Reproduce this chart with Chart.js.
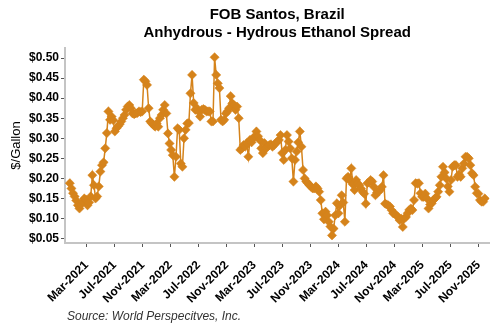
<!DOCTYPE html>
<html>
<head>
<meta charset="utf-8">
<script src="https://cdn.jsdelivr.net/npm/chart.js@4.4.1/dist/chart.umd.min.js"></script>
<style>
  html, body { margin: 0; padding: 0; background: #ffffff; }
  #wrap { width: 500px; height: 330px; }
</style>
</head>
<body>
<div id="wrap"><canvas id="chart" width="500" height="330"></canvas></div>
<script>
// Labels and text
const titleLines = ['FOB Santos, Brazil', 'Anhydrous - Hydrous Ethanol Spread'];
const sourceNote = 'Source: World Perspecitves, Inc.';
const yAxisTitle = '$/Gallon';

// Weekly observations start on this date, one value per week
const firstWeek = '2020-12-18';
const axisStart = '2020-11-27';
const axisEnd = '2025-12-18';

const xTickLabels = ['Mar-2021', 'Jul-2021', 'Nov-2021', 'Mar-2022', 'Jul-2022', 'Nov-2022',
  'Mar-2023', 'Jul-2023', 'Nov-2023', 'Mar-2024', 'Jul-2024', 'Nov-2024',
  'Mar-2025', 'Jul-2025', 'Nov-2025'];
const yTickValues = [0.05, 0.10, 0.15, 0.20, 0.25, 0.30, 0.35, 0.40, 0.45, 0.50];

// Anhydrous minus hydrous spread, $/gallon, weekly
const spread2020 = [0.188, 0.175];
const spread2021 = [0.163, 0.155, 0.145, 0.133, 0.125, 0.135, 0.142, 0.150, 0.147, 0.133,
  0.140, 0.155, 0.208, 0.183, 0.150, 0.155, 0.180, 0.217, 0.233, 0.240,
  0.275, 0.313, 0.367, 0.346, 0.354, 0.345, 0.317, 0.325, 0.330, 0.335,
  0.342, 0.350, 0.358, 0.371, 0.379, 0.383, 0.375, 0.362, 0.360, 0.362,
  0.363, 0.367, 0.365, 0.367, 0.446, 0.442, 0.433, 0.375, 0.342, 0.337,
  0.333, 0.329, 0.337];
const spread2022 = [0.329, 0.350, 0.358, 0.371, 0.383, 0.362, 0.312, 0.287, 0.271, 0.258,
  0.204, 0.254, 0.325, 0.321, 0.237, 0.229, 0.300, 0.321, 0.337, 0.338,
  0.412, 0.458, 0.388, 0.371, 0.375, 0.367, 0.354, 0.371, 0.373, 0.371,
  0.367, 0.367, 0.367, 0.342, 0.342, 0.502, 0.458, 0.437, 0.425, 0.346,
  0.342, 0.346, 0.362, 0.367, 0.375, 0.405, 0.387, 0.383, 0.371, 0.379,
  0.350, 0.271];
const spread2023 = [0.275, 0.283, 0.279, 0.288, 0.254, 0.296, 0.290, 0.300, 0.305, 0.317,
  0.305, 0.296, 0.275, 0.263, 0.288, 0.275, 0.279, 0.283, 0.285, 0.279,
  0.283, 0.288, 0.292, 0.296, 0.308, 0.263, 0.246, 0.271, 0.308, 0.292,
  0.275, 0.250, 0.192, 0.246, 0.267, 0.290, 0.317, 0.279, 0.221, 0.200,
  0.192, 0.188, 0.183, 0.179, 0.175, 0.175, 0.180, 0.175, 0.167, 0.146,
  0.113, 0.098];
const spread2024 = [0.117, 0.108, 0.092, 0.080, 0.058, 0.075, 0.108, 0.138, 0.113, 0.133,
  0.158, 0.140, 0.092, 0.200, 0.204, 0.195, 0.225, 0.185, 0.171, 0.196,
  0.187, 0.183, 0.175, 0.167, 0.162, 0.137, 0.188, 0.190, 0.196, 0.192,
  0.179, 0.158, 0.165, 0.167, 0.172, 0.179, 0.208, 0.137, 0.135, 0.133,
  0.130, 0.121, 0.113, 0.112, 0.108, 0.104, 0.096, 0.100, 0.079, 0.100,
  0.104, 0.113];
const spread2025 = [0.121, 0.125, 0.121, 0.146, 0.188, 0.187, 0.188, 0.163, 0.154, 0.154,
  0.162, 0.150, 0.125, 0.135, 0.138, 0.146, 0.150, 0.154, 0.167, 0.183,
  0.204, 0.229, 0.215, 0.200, 0.180, 0.167, 0.196, 0.229, 0.233, 0.233,
  0.204, 0.210, 0.204, 0.225, 0.237, 0.254, 0.254, 0.250, 0.233, 0.213,
  0.208, 0.179, 0.163, 0.162, 0.146, 0.142, 0.142, 0.150];

const spreadValues = [].concat(spread2020, spread2021, spread2022, spread2023, spread2024, spread2025);

// Dates are handled as whole days since the epoch on a linear axis
const DAY = 86400000;
function dayNumber(iso) {
  const [y, m, d] = iso.split('-').map(Number);
  return Date.UTC(y, m - 1, d) / DAY;
}
const MONTHS = ['Jan', 'Feb', 'Mar', 'Apr', 'May', 'Jun', 'Jul', 'Aug', 'Sep', 'Oct', 'Nov', 'Dec'];
function labelDay(label) {
  const [mon, yr] = label.split('-');
  return Date.UTC(Number(yr), MONTHS.indexOf(mon), 1) / DAY;
}
const xTickDays = xTickLabels.map(labelDay);
const tickLabelByDay = new Map(xTickDays.map((d, k) => [d, xTickLabels[k]]));

const startDay = dayNumber(firstWeek);
const points = spreadValues.map((v, i) => ({ x: startDay + 7 * i, y: v }));

const FONT = '"Liberation Sans", Arial, Helvetica, sans-serif';
const ORANGE = '#D5831B';

// Two-line heading centred over the plot, plus the source note
const annotations = {
  id: 'annotations',
  afterDraw(chart) {
    const ctx = chart.ctx;
    const area = chart.chartArea;
    const cx = (area.left + area.right) / 2;
    ctx.save();
    ctx.fillStyle = '#000000';
    ctx.textAlign = 'center';
    ctx.textBaseline = 'middle';
    ctx.font = 'bold 15px ' + FONT;
    ctx.fillText(titleLines[0], cx, 15);
    ctx.fillText(titleLines[1], cx, 32.5);
    ctx.textAlign = 'left';
    ctx.font = 'italic 12px ' + FONT;
    ctx.fillStyle = '#333333';
    ctx.fillText(sourceNote, 67, 317);
    ctx.restore();
  }
};

new Chart(document.getElementById('chart'), {
  type: 'line',
  data: {
    datasets: [{
      data: points,
      borderColor: ORANGE,
      borderWidth: 1.5,
      backgroundColor: ORANGE,
      pointStyle: 'rectRot',
      pointRadius: 4.6,
      pointBorderWidth: 0.5,
      pointBackgroundColor: ORANGE,
      pointBorderColor: ORANGE,
      tension: 0,
      fill: false
    }]
  },
  options: {
    responsive: false,
    animation: false,
    devicePixelRatio: 1,
    layout: { padding: { top: 48, right: 8, bottom: 0, left: 0 } },
    plugins: {
      legend: { display: false },
      tooltip: { enabled: false },
      title: { display: false }
    },
    scales: {
      x: {
        type: 'linear',
        min: dayNumber(axisStart),
        max: dayNumber(axisEnd),
        afterBuildTicks(scale) {
          scale.ticks = xTickDays.map(v => ({ value: v }));
        },
        afterFit(scale) { scale.height = 87; },
        ticks: {
          autoSkip: false,
          minRotation: 45,
          maxRotation: 45,
          padding: 11,
          color: '#000000',
          font: { family: FONT, size: 12, weight: 'bold' },
          callback: v => tickLabelByDay.get(v) || ''
        },
        grid: { display: true, drawOnChartArea: false, drawTicks: true, tickLength: 4, color: '#555555' },
        border: { display: true, color: '#c4c4c4', width: 2 }
      },
      y: {
        type: 'linear',
        min: 0.039,
        max: 0.525,
        afterBuildTicks(scale) {
          scale.ticks = yTickValues.map(v => ({ value: v }));
        },
        afterFit(scale) { scale.width = 65; },
        ticks: {
          padding: 2,
          color: '#000000',
          font: { family: FONT, size: 12, weight: 'bold' },
          callback: v => '$' + Number(v).toFixed(2)
        },
        grid: { display: true, drawOnChartArea: false, drawTicks: true, tickLength: 4, color: '#555555' },
        border: { display: true, color: '#c4c4c4', width: 2 },
        title: {
          display: true,
          text: yAxisTitle,
          color: '#000000',
          font: { family: FONT, size: 13 },
          padding: { top: 9, bottom: 0 }
        }
      }
    }
  },
  plugins: [annotations]
});
</script>
</body>
</html>
